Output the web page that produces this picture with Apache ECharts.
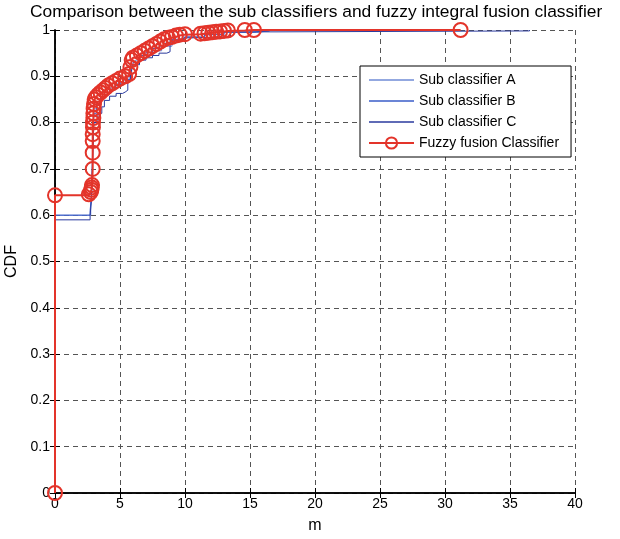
<!DOCTYPE html>
<html>
<head>
<meta charset="utf-8">
<script src="https://cdn.jsdelivr.net/npm/echarts@6/dist/echarts.min.js"></script>
<style>html,body{margin:0;padding:0;background:#fff}#c{width:620px;height:539px}</style>
</head>
<body>
<div id="c"></div>
<script>
var seriesNames = ['Sub classifier A', 'Sub classifier B', 'Sub classifier C', 'Fuzzy fusion Classifier'];
var xTicks = [0, 5, 10, 15, 20, 25, 30, 35, 40];
var yTicks = [0, 0.1, 0.2, 0.3, 0.4, 0.5, 0.6, 0.7, 0.8, 0.9, 1];

var aX = [0, 0, 2.75, 2.8, 2.85, 2.9, 2.95, 3.0, 3.2, 3.5, 3.8, 4.2, 4.7, 5.2, 5.7, 5.9, 6.2, 6.8, 7.5, 8.2, 9.0, 9.8, 11.0, 13.0, 15.5, 16.5];
var aY = [0, 0.60, 0.62, 0.65, 0.70, 0.75, 0.80, 0.83, 0.845, 0.855, 0.865, 0.875, 0.885, 0.89, 0.90, 0.925, 0.935, 0.945, 0.955, 0.965, 0.975, 0.985, 0.99, 0.995, 0.998, 1.0];

var bX = [0, 0, 2.7, 2.8, 2.85, 2.9, 2.95, 3.0, 3.2, 3.5, 3.8, 4.2, 4.6, 5.0, 5.5, 5.8, 6.0, 6.5, 7.0, 7.5, 8.0, 8.5, 9.0, 10.0, 11.5, 13.0, 15.0, 16.5];
var bY = [0, 0.60, 0.61, 0.64, 0.68, 0.74, 0.79, 0.82, 0.84, 0.855, 0.865, 0.872, 0.88, 0.886, 0.893, 0.92, 0.93, 0.945, 0.952, 0.96, 0.965, 0.972, 0.98, 0.985, 0.99, 0.995, 0.998, 1.0];

var cX = [0, 0, 2.7, 2.8, 2.85, 2.9, 2.95, 3.0, 3.3, 3.6, 3.8, 4.2, 4.7, 5.2, 5.4, 5.6, 5.8, 5.9, 6.0, 6.5, 7.0, 7.5, 8.0, 8.6, 8.85, 9.9, 10.5, 13.5, 17.0, 36.5];
var cY = [0, 0.59, 0.60, 0.63, 0.67, 0.72, 0.77, 0.80, 0.82, 0.834, 0.848, 0.857, 0.863, 0.866, 0.87, 0.888, 0.90, 0.915, 0.925, 0.935, 0.94, 0.945, 0.95, 0.953, 0.978, 0.983, 0.985, 0.996, 0.998, 1.0];

var fX = [0, 0, 2.6, 2.75, 2.8, 2.82, 2.85, 2.9, 2.9, 2.9, 2.9, 2.92, 2.92, 2.95, 2.95, 2.97, 3.0, 3.05, 3.15, 3.3, 3.5, 3.7, 3.9, 4.1, 4.4, 4.7, 5.0, 5.4, 5.7, 5.8, 5.9, 6.0, 6.3, 6.6, 6.9, 7.2, 7.5, 7.8, 8.1, 8.4, 8.7, 9.0, 9.3, 9.6, 10.0, 11.2, 11.5, 11.8, 12.1, 12.4, 12.7, 13.0, 13.3, 14.6, 15.3, 31.2];
var fY = [0, 0.643, 0.645, 0.65, 0.655, 0.66, 0.665, 0.70, 0.735, 0.76, 0.775, 0.79, 0.80, 0.81, 0.82, 0.83, 0.84, 0.85, 0.855, 0.86, 0.865, 0.87, 0.875, 0.88, 0.885, 0.89, 0.895, 0.90, 0.905, 0.92, 0.935, 0.94, 0.945, 0.95, 0.955, 0.96, 0.965, 0.97, 0.975, 0.98, 0.983, 0.985, 0.988, 0.99, 0.991, 0.992, 0.993, 0.994, 0.995, 0.996, 0.997, 0.998, 0.999, 1.0, 1.0, 1.0];

function pairs(xs, ys) { return xs.map(function (x, i) { return [x, ys[i]]; }); }

var font = 'Liberation Sans, Arial, sans-serif';
var chart = echarts.init(document.getElementById('c'), null, {renderer: 'canvas'});
var lineIcon = 'path://M0,0L45,0L45,1.3L0,1.3Z';

function blue(name, xs, ys, color) {
  return {
    name: name, type: 'line', step: 'end', data: pairs(xs, ys),
    symbol: 'none', lineStyle: {color: color, width: 1}, itemStyle: {color: color},
    animation: false, z: 2
  };
}

chart.setOption({
  animation: false,
  backgroundColor: '#fff',
  title: {
    text: 'Comparison between the sub classifiers and fuzzy integral fusion classifier',
    left: 30, top: 4, padding: 0,
    textStyle: {fontFamily: font, fontSize: 17.4, fontWeight: 'normal', color: '#000'}
  },
  grid: {left: 55, right: 45, top: 30, bottom: 46, outerBoundsMode: 'none', containLabel: false},
  legend: {
    orient: 'vertical', left: 360, top: 66,
    data: [
      {name: seriesNames[0], icon: lineIcon},
      {name: seriesNames[1], icon: lineIcon},
      {name: seriesNames[2], icon: lineIcon},
      {name: seriesNames[3]}
    ],
    backgroundColor: '#fff', borderColor: '#000', borderWidth: 1,
    padding: [7, 12, 7, 8],
    itemWidth: 45, itemHeight: 14, itemGap: 7,
    textStyle: {fontFamily: font, fontSize: 14, color: '#000'}
  },
  xAxis: [{
    type: 'value', min: xTicks[0], max: xTicks[xTicks.length - 1], interval: 5,
    name: 'm', nameLocation: 'middle', nameGap: 25,
    nameTextStyle: {fontFamily: font, fontSize: 16, color: '#000'},
    axisLine: {lineStyle: {color: '#000', width: 1.5}},
    axisTick: {inside: true, length: 5, lineStyle: {color: '#000'}},
    axisLabel: {fontFamily: font, fontSize: 14, color: '#000', margin: 4},
    splitLine: {show: true, lineStyle: {color: '#555', type: [5, 4], width: 1}}
  }, {
    type: 'value', position: 'top', min: xTicks[0], max: xTicks[xTicks.length - 1], interval: 5,
    axisLine: {show: true, lineStyle: {color: '#000', width: 1.5}},
    axisTick: {show: true, inside: true, length: 5, lineStyle: {color: '#000'}},
    axisLabel: {show: false}, splitLine: {show: false}
  }],
  yAxis: [{
    type: 'value', min: yTicks[0], max: yTicks[yTicks.length - 1], interval: 0.1,
    name: 'CDF', nameLocation: 'middle', nameGap: 28,
    nameTextStyle: {fontFamily: font, fontSize: 16, color: '#000'},
    axisLine: {show: true, lineStyle: {color: '#000', width: 1.5}},
    axisTick: {show: true, inside: true, length: 5, lineStyle: {color: '#000'}},
    axisLabel: {fontFamily: font, fontSize: 14, color: '#000', margin: 5},
    splitLine: {show: true, lineStyle: {color: '#555', type: [5, 4], width: 1}}
  }, {
    type: 'value', position: 'right', min: yTicks[0], max: yTicks[yTicks.length - 1], interval: 0.1,
    axisLine: {show: true, lineStyle: {color: '#000', width: 1.5}},
    axisTick: {show: true, inside: true, length: 5, lineStyle: {color: '#000'}},
    axisLabel: {show: false}, splitLine: {show: false}
  }],
  series: [
    blue(seriesNames[0], aX, aY, '#6f8bd6'),
    blue(seriesNames[1], bX, bY, '#3a5cc8'),
    blue(seriesNames[2], cX, cY, '#2a3a9e'),
    {
      name: seriesNames[3], type: 'line', step: 'end', data: pairs(fX, fY),
      symbol: 'circle', symbolSize: 14, showAllSymbol: true,
      lineStyle: {color: '#e3342a', width: 2},
      itemStyle: {color: 'rgba(255,255,255,0)', borderColor: '#e3342a', borderWidth: 2},
      z: 3
    }
  ]
});
</script>
</body>
</html>
